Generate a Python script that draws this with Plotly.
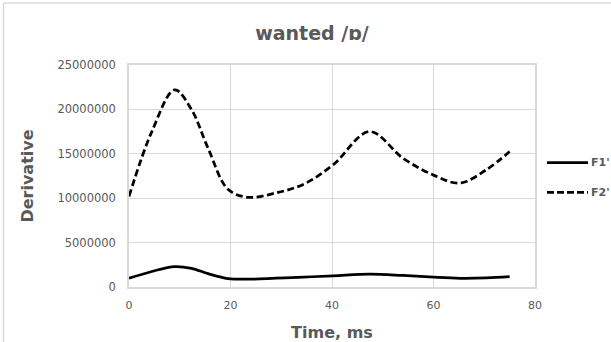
import plotly.graph_objects as go

# Time axis (ms) and the two formant derivatives
time_ms = [0, 4.5, 9, 12.3, 15.6, 19.5, 23.5, 29, 34.5, 40.2, 47.4, 54, 60, 65.2, 70.4, 75]
f1_deriv = [980000, 1750000, 2300000, 2100000, 1500000, 950000, 880000, 1000000, 1120000,
            1250000, 1450000, 1300000, 1100000, 980000, 1020000, 1160000]
f2_deriv = [10200000, 17500000, 22200000, 20000000, 15600000, 11000000, 10100000, 10600000,
            11600000, 13750000, 17500000, 14500000, 12600000, 11700000, 13200000, 15250000]
series_names = ["F1'", "F2'"]
x_ticks = [0, 20, 40, 60, 80]
y_ticks = [0, 5000000, 10000000, 15000000, 20000000, 25000000]

W, H = 611, 342
ML, MR, MT, MB = 129, 76, 65, 55
PW, PH = W - ML - MR, H - MT - MB

GRID = "#d9d9d9"
TXT = "#595959"
FONT = "DejaVu Sans"


def px_x(p):
    return (p - ML) / PW


def px_y(p):
    return (H - MB - p) / PH


fig = go.Figure()
fig.add_trace(go.Scatter(x=time_ms, y=f1_deriv, name=series_names[0], mode="lines",
                         line=dict(color="black", width=2.75, shape="spline", smoothing=1.0),
                         showlegend=False))
fig.add_trace(go.Scatter(x=time_ms, y=f2_deriv, name=series_names[1], mode="lines",
                         line=dict(color="black", width=2.75, dash="7px,3.5px",
                                   shape="spline", smoothing=1.0),
                         showlegend=False))

shapes = [
    # chart frame (left and top edges)
    dict(type="line", xref="paper", yref="paper", x0=px_x(3.5), x1=px_x(3.5),
         y0=px_y(H + 5), y1=px_y(3), line=dict(color=GRID, width=1.5)),
    dict(type="line", xref="paper", yref="paper", x0=px_x(3.5), x1=px_x(W + 5),
         y0=px_y(3), y1=px_y(3), line=dict(color=GRID, width=1.5)),
    # legend samples
    dict(type="line", xref="paper", yref="paper", x0=px_x(547), x1=px_x(588),
         y0=px_y(162.7), y1=px_y(162.7), line=dict(color="black", width=2.75)),
    dict(type="line", xref="paper", yref="paper", x0=px_x(547), x1=px_x(588),
         y0=px_y(192.3), y1=px_y(192.3),
         line=dict(color="black", width=2.75, dash="7px,3px")),
]

annotations = [
    dict(text=series_names[0], xref="paper", yref="paper", x=px_x(590), y=px_y(162.7),
         xanchor="left", yanchor="middle", showarrow=False, borderpad=0,
         font=dict(family=FONT, size=11, color=TXT, weight="bold")),
    dict(text=series_names[1], xref="paper", yref="paper", x=px_x(590), y=px_y(192.3),
         xanchor="left", yanchor="middle", showarrow=False, borderpad=0,
         font=dict(family=FONT, size=11, color=TXT, weight="bold")),
]

fig.update_layout(
    width=W, height=H,
    margin=dict(l=ML, r=MR, t=MT, b=MB, autoexpand=False),
    paper_bgcolor="white", plot_bgcolor="white",
    title=dict(text="wanted /ɒ/", x=312 / W, xanchor="center", xref="container",
               y=1 - 33 / H, yanchor="middle", yref="container",
               font=dict(family=FONT, size=19, color=TXT, weight="bold")),
    shapes=shapes,
    annotations=annotations,
    xaxis=dict(range=[0, 80], tickvals=x_ticks, showgrid=True, gridcolor=GRID, gridwidth=1,
               showline=True, linecolor=GRID, linewidth=1.5, mirror=True, zeroline=False,
               ticks="", ticklabelstandoff=7, automargin=False,
               tickfont=dict(family=FONT, size=11, color=TXT),
               title=dict(text="Time, ms", standoff=17,
                          font=dict(family=FONT, size=16, color=TXT, weight="bold"))),
    yaxis=dict(range=[0, 25000000], tickvals=y_ticks, tickformat="d", showgrid=True,
               gridcolor=GRID, gridwidth=1, showline=True, linecolor=GRID, linewidth=1.5,
               mirror=True, zeroline=False, ticks="", ticklabelstandoff=9, automargin=False,
               tickfont=dict(family=FONT, size=11.5, color=TXT),
               title=dict(text="Derivative", standoff=20,
                          font=dict(family=FONT, size=16, color=TXT, weight="bold"))),
)

fig.write_html("out.html")
